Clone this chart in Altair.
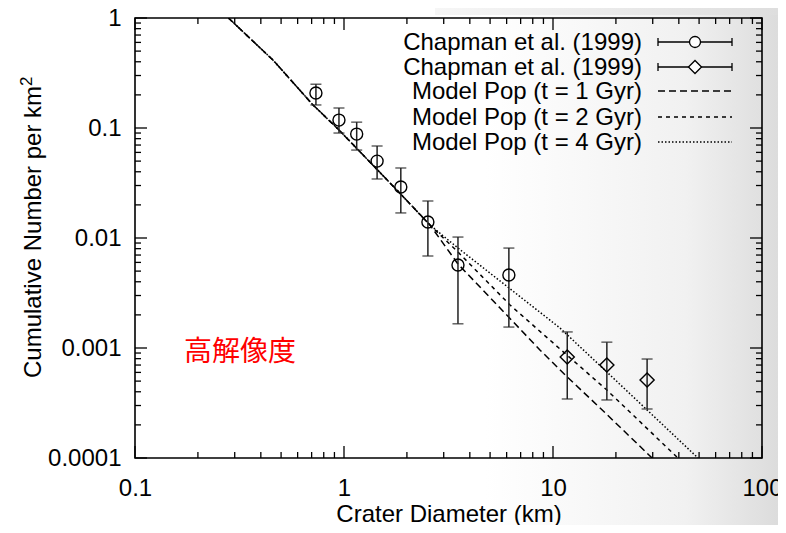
import altair as alt
import pandas as pd

# ---------------- data ----------------
circ_d = [0.734, 0.946, 1.15, 1.44, 1.87, 2.52, 3.51, 6.15]
circ_n = [0.208, 0.118, 0.088, 0.050, 0.0291, 0.0140, 0.00569, 0.00461]
circ_lo = [0.162, 0.090, 0.063, 0.0344, 0.0169, 0.00686, 0.00166, 0.00155]
circ_hi = [0.25, 0.152, 0.113, 0.0686, 0.0433, 0.0217, 0.0102, 0.0081]

dia_d = [11.7, 18.1, 28.2]
dia_n = [0.000828, 0.0007, 0.000512]
dia_lo = [0.000344, 0.000337, 0.000279]
dia_hi = [0.0014, 0.00113, 0.000794]

common_d = [0.28, 0.457, 0.711, 0.946, 1.79, 2.58]
common_n = [1.0, 0.415, 0.162, 0.096, 0.0273, 0.0131]
gyr1_d = [3.51, 5.58, 8.66, 11.7, 16.8, 29.8]
gyr1_n = [0.0058, 0.00231, 0.000959, 0.000545, 0.000285, 0.0001]
gyr2_d = [3.51, 6.23, 9.16, 18.1, 39.6]
gyr2_n = [0.00746, 0.00246, 0.00129, 0.000415, 0.0001]
gyr4_d = [3.51, 6.16, 10.8, 18.1, 49.4]
gyr4_n = [0.00811, 0.00351, 0.00152, 0.000605, 0.0001]

x_major = [0.1, 1, 10, 100]
x_minor = [0.2, 0.3, 0.4, 0.5, 0.6, 0.7, 0.8, 0.9,
           2, 3, 4, 5, 6, 7, 8, 9,
           20, 30, 40, 50, 60, 70, 80, 90]
y_major = [0.0001, 0.001, 0.01, 0.1, 1]
y_minor = [0.0002, 0.0003, 0.0004, 0.0005, 0.0006, 0.0007, 0.0008, 0.0009,
           0.002, 0.003, 0.004, 0.005, 0.006, 0.007, 0.008, 0.009,
           0.02, 0.03, 0.04, 0.05, 0.06, 0.07, 0.08, 0.09,
           0.2, 0.3, 0.4, 0.5, 0.6, 0.7, 0.8, 0.9]

legend_labels = ["Chapman et al. (1999)", "Chapman et al. (1999)",
                 "Model Pop (t = 1 Gyr)", "Model Pop (t = 2 Gyr)",
                 "Model Pop (t = 4 Gyr)"]

# ---------------- layout ----------------
W, H = 627, 440
FONT = "Liberation Sans"
one = pd.DataFrame({"k": [0]})

xs = alt.Scale(type="log", domain=[0.1, 100], nice=False)
ys = alt.Scale(type="log", domain=[0.0001, 1], nice=False)
xax = alt.Axis(values=x_major, labelExpr="'' + datum.value", ticks=False,
               domain=False, grid=False, labelFontSize=24, labelPadding=18,
               labelFlush=False, labelOverlap=False, labelColor="black",
               labelFont=FONT, title="Crater Diameter (km)", titleFont=FONT,
               titleFontSize=24, titleFontWeight="normal", titleColor="black",
               titlePadding=2, zindex=2)
yax = alt.Axis(values=y_major, labelExpr="'' + datum.value", ticks=False,
               domain=False, grid=False, labelFontSize=24, labelPadding=14,
               labelFlush=False, labelOverlap=False, labelColor="black",
               labelFont=FONT, title=None, zindex=2)


def X(f):
    return alt.X(f, type="quantitative", scale=xs, axis=xax)


def Y(f):
    return alt.Y(f, type="quantitative", scale=ys, axis=yax)


def prule(x1, x2, y1, y2, **kw):
    return alt.Chart(one).mark_rule(**kw).encode(
        x=alt.value(x1), x2=alt.value(x2), y=alt.value(y1), y2=alt.value(y2))


# background gradient (slide shading)
grad = alt.LinearGradient(
    gradient="linear",
    stops=[alt.GradientStop(color="#ffffff", offset=0),
           alt.GradientStop(color="#ffffff", offset=0.62),
           alt.GradientStop(color="#f1f1f1", offset=0.88),
           alt.GradientStop(color="#dcdcdc", offset=1)],
    x1=0, x2=1, y1=0, y2=0)
bg = alt.Chart(one).mark_rect(color=grad).encode(
    x=alt.value(-127), x2=alt.value(643), y=alt.value(-10), y2=alt.value(507))
grad_top = alt.LinearGradient(
    gradient="linear",
    stops=[alt.GradientStop(color="#f6f6f6", offset=0),
           alt.GradientStop(color="#dedede", offset=1)],
    x1=0, x2=1, y1=0, y2=0)
topband = alt.Chart(one).mark_rect(color=grad_top).encode(
    x=alt.value(300), x2=alt.value(643), y=alt.value(-10), y2=alt.value(-3))

frame = alt.Chart(one).mark_rect(fill="transparent", stroke="black",
                                 strokeWidth=1.6).encode(
    x=alt.value(0), x2=alt.value(W), y=alt.value(0), y2=alt.value(H))

# tick marks (inward, on all four sides)
def xticks(vals, L):
    d = pd.DataFrame({"v": vals})
    b = alt.Chart(d).mark_rule(color="black", strokeWidth=1.3).encode(
        x=X("v"), y=alt.value(H), y2=alt.value(H - L))
    t = alt.Chart(d).mark_rule(color="black", strokeWidth=1.3).encode(
        x=X("v"), y=alt.value(0), y2=alt.value(L))
    return [b, t]


def yticks(vals, L):
    d = pd.DataFrame({"v": vals})
    l = alt.Chart(d).mark_rule(color="black", strokeWidth=1.3).encode(
        y=Y("v"), x=alt.value(0), x2=alt.value(L))
    r = alt.Chart(d).mark_rule(color="black", strokeWidth=1.3).encode(
        y=Y("v"), x=alt.value(W), x2=alt.value(W - L))
    return [l, r]


ticks = xticks(x_major, 12) + xticks(x_minor, 6) + yticks(y_major, 12) + yticks(y_minor, 6)

# model lines
def model(ds, ns, dash):
    d = pd.DataFrame({"D": common_d + ds, "N": common_n + ns})
    return alt.Chart(d).mark_line(color="black", strokeWidth=1.5,
                                  strokeDash=dash, clip=True).encode(
        x=X("D"), y=Y("N"))


m1 = model(gyr1_d, gyr1_n, [7, 4])
m2 = model(gyr2_d, gyr2_n, [4, 4])
m4 = model(gyr4_d, gyr4_n, [1.5, 2])

# observations
circ = pd.DataFrame({"D": circ_d, "N": circ_n, "lo": circ_lo, "hi": circ_hi})
dia = pd.DataFrame({"D": dia_d, "N": dia_n, "lo": dia_lo, "hi": dia_hi})


def obs(d, shape, size):
    err = alt.Chart(d).mark_rule(color="#222222", strokeWidth=1.5).encode(
        x=X("D"), y=Y("lo"), y2="hi")
    cap_hi = alt.Chart(d).mark_tick(color="#222222", orient="horizontal",
                                    size=11, thickness=1.5).encode(
        x=X("D"), y=Y("hi"))
    cap_lo = alt.Chart(d).mark_tick(color="#222222", orient="horizontal",
                                    size=11, thickness=1.5).encode(
        x=X("D"), y=Y("lo"))
    pts = alt.Chart(d).mark_point(shape=shape, size=size, filled=False,
                                  color="black", strokeWidth=1.4,
                                  opacity=1).encode(x=X("D"), y=Y("N"))
    return [err, cap_hi, cap_lo, pts]


obs_c = obs(circ, "circle", 144)
obs_d = obs(dia, "diamond", 200)

# legend (drawn by hand)
leg_y = [24, 49, 73, 99, 124]
leg_layers = []
for lab, yy in zip(legend_labels, leg_y):
    leg_layers.append(alt.Chart(one).mark_text(
        text=lab, align="right", baseline="middle", font=FONT, fontSize=24,
        color="black").encode(x=alt.value(507), y=alt.value(yy + 1)))
for yy, shape, size in [(leg_y[0], "circle", 121), (leg_y[1], "diamond", 170)]:
    leg_layers.append(prule(523, 597, yy, yy, color="black", strokeWidth=1.3))
    leg_layers.append(prule(523, 523, yy - 4, yy + 4, color="black", strokeWidth=1.3))
    leg_layers.append(prule(597, 597, yy - 4, yy + 4, color="black", strokeWidth=1.3))
    leg_layers.append(alt.Chart(one).mark_point(
        shape=shape, size=size, filled=False, color="black", strokeWidth=1.3,
        opacity=1, fill="white", fillOpacity=1).encode(
        x=alt.value(560), y=alt.value(yy)))
for yy, dash in [(leg_y[2], [7, 4]), (leg_y[3], [4, 4]), (leg_y[4], [1.5, 2])]:
    leg_layers.append(prule(523, 597, yy, yy, color="black", strokeWidth=1.4,
                            strokeDash=dash))

# y axis title (with superscript) and red annotation
ytitle = alt.Chart(one).mark_text(
    text="Cumulative Number per km", angle=270, align="left",
    baseline="middle", font=FONT, fontSize=24, color="black").encode(
    x=alt.value(-101), y=alt.value(360))
ysup = alt.Chart(one).mark_text(
    text="2", angle=270, align="left", baseline="middle", font=FONT,
    fontSize=17, color="black").encode(
    x=alt.value(-108), y=alt.value(68))
note = alt.Chart(one).mark_text(
    text="高解像度", align="center", baseline="middle",
    font="Noto Sans CJK JP", fontSize=28, color="#ff0000").encode(
    x=alt.value(105), y=alt.value(335))

chart = alt.layer(
    bg, topband, *ticks, m1, m2, m4, *obs_c, *obs_d, frame, *leg_layers,
    ytitle, ysup, note
).properties(
    width=W, height=H,
    padding={"left": 127, "top": 10, "right": 16, "bottom": 67},
    autosize=alt.AutoSizeParams(type="none"),
    background="white",
).configure_view(stroke=None)

chart.save("out.html", embed_options={"renderer": "svg", "actions": False})
